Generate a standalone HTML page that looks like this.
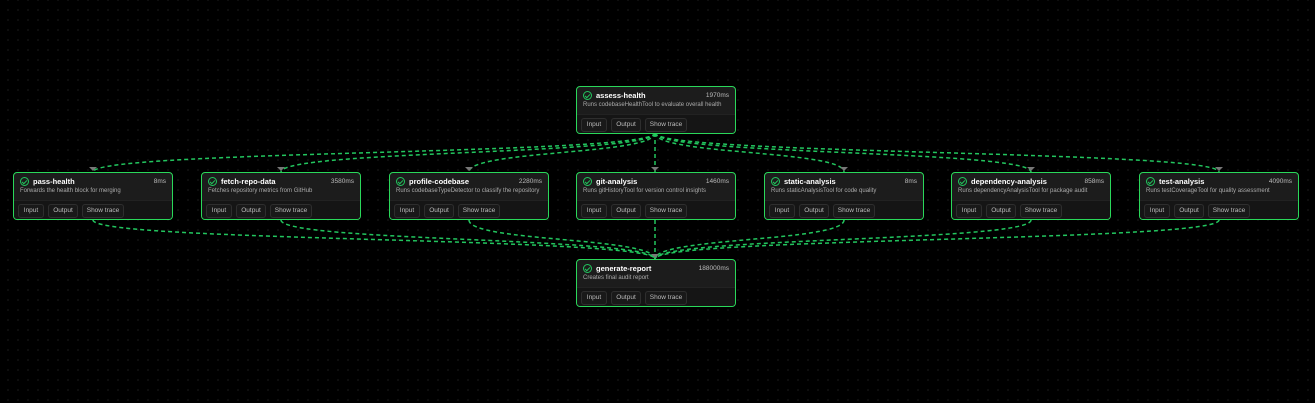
<!DOCTYPE html>
<html><head><meta charset="utf-8"><style>
*{box-sizing:border-box;margin:0;padding:0}
body{width:1315px;height:403px;background:#000;background-image:radial-gradient(#121212 0.8px,transparent 0.9px);background-size:10px 10px;background-position:3px 5px;position:relative;overflow:hidden;font-family:"Liberation Sans",sans-serif}
.n{position:absolute;width:160px;height:48px;border:1.5px solid #2ad85a;border-radius:4px;background:#1c1c1c;overflow:hidden}
.h{position:absolute;left:6px;top:4px;right:6px;height:10px}
.ic{position:absolute;left:0;top:0;width:9px;height:9px;border:1.3px solid #22c55e;border-radius:50%}
.ic:after{content:"";position:absolute;left:2px;top:1px;width:2px;height:4px;border:solid #22c55e;border-width:0 1.2px 1.2px 0;transform:rotate(45deg)}
.t{position:absolute;left:13px;top:0;font-size:7.5px;font-weight:bold;color:#fff;line-height:9px}
.ms{position:absolute;right:0;top:0;font-size:6.5px;color:#bbb;line-height:9px}
.d{position:absolute;left:6px;top:15px;font-size:6px;color:#aaa;white-space:nowrap}
.f{position:absolute;left:0;right:0;top:27px;bottom:0;background:#151515;border-top:1px solid #222}
.b{position:absolute;top:3px;height:14px;border:1px solid #2e2e2e;border-radius:3px;background:#191919;color:#bbb;font-size:6.5px;line-height:12px;text-align:center}
svg{position:absolute;left:0;top:0}
</style></head><body>
<svg width="1315" height="403">
<g fill="none" stroke="#22c55e" stroke-width="1.5" stroke-dasharray="4 3">
<path d="M655,133 C655,155 93,150 93,172"/>
<path d="M655,133 C655,155 281,150 281,172"/>
<path d="M655,133 C655,155 469,150 469,172"/>
<path d="M655,133 L655,172"/>
<path d="M655,133 C655,155 844,150 844,172"/>
<path d="M655,133 C655,155 1031,150 1031,172"/>
<path d="M655,133 C655,155 1219,150 1219,172"/>
<path d="M93,220 C93,242 655,237 655,259"/>
<path d="M281,220 C281,242 655,237 655,259"/>
<path d="M469,220 C469,242 655,237 655,259"/>
<path d="M655,220 L655,259"/>
<path d="M844,220 C844,242 655,237 655,259"/>
<path d="M1031,220 C1031,242 655,237 655,259"/>
<path d="M1219,220 C1219,242 655,237 655,259"/>
</g>
<g fill="#777">
<path d="M89,167 h8 l-4,4z"/><path d="M277,167 h8 l-4,4z"/><path d="M465,167 h8 l-4,4z"/><path d="M651,167 h8 l-4,4z"/><path d="M840,167 h8 l-4,4z"/><path d="M1027,167 h8 l-4,4z"/><path d="M1215,167 h8 l-4,4z"/><path d="M651,254 h8 l-4,4z"/>
</g>
</svg>

<div class="n" style="left:576px;top:86px"><div class="h"><div class="ic"></div><div class="t">assess-health</div><div class="ms">1970ms</div></div><div class="d">Runs codebaseHealthTool to evaluate overall health</div><div class="f"><div class="b" style="left:4px;width:26px">Input</div><div class="b" style="left:34px;width:30px">Output</div><div class="b" style="left:68px;width:42px">Show trace</div></div></div>

<div class="n" style="left:13px;top:172px"><div class="h"><div class="ic"></div><div class="t">pass-health</div><div class="ms">8ms</div></div><div class="d">Forwards the health block for merging</div><div class="f"><div class="b" style="left:4px;width:26px">Input</div><div class="b" style="left:34px;width:30px">Output</div><div class="b" style="left:68px;width:42px">Show trace</div></div></div>

<div class="n" style="left:201px;top:172px"><div class="h"><div class="ic"></div><div class="t">fetch-repo-data</div><div class="ms">3580ms</div></div><div class="d">Fetches repository metrics from GitHub</div><div class="f"><div class="b" style="left:4px;width:26px">Input</div><div class="b" style="left:34px;width:30px">Output</div><div class="b" style="left:68px;width:42px">Show trace</div></div></div>

<div class="n" style="left:389px;top:172px"><div class="h"><div class="ic"></div><div class="t">profile-codebase</div><div class="ms">2280ms</div></div><div class="d">Runs codebaseTypeDetector to classify the repository</div><div class="f"><div class="b" style="left:4px;width:26px">Input</div><div class="b" style="left:34px;width:30px">Output</div><div class="b" style="left:68px;width:42px">Show trace</div></div></div>

<div class="n" style="left:576px;top:172px"><div class="h"><div class="ic"></div><div class="t">git-analysis</div><div class="ms">1460ms</div></div><div class="d">Runs gitHistoryTool for version control insights</div><div class="f"><div class="b" style="left:4px;width:26px">Input</div><div class="b" style="left:34px;width:30px">Output</div><div class="b" style="left:68px;width:42px">Show trace</div></div></div>

<div class="n" style="left:764px;top:172px"><div class="h"><div class="ic"></div><div class="t">static-analysis</div><div class="ms">8ms</div></div><div class="d">Runs staticAnalysisTool for code quality</div><div class="f"><div class="b" style="left:4px;width:26px">Input</div><div class="b" style="left:34px;width:30px">Output</div><div class="b" style="left:68px;width:42px">Show trace</div></div></div>

<div class="n" style="left:951px;top:172px"><div class="h"><div class="ic"></div><div class="t">dependency-analysis</div><div class="ms">858ms</div></div><div class="d">Runs dependencyAnalysisTool for package audit</div><div class="f"><div class="b" style="left:4px;width:26px">Input</div><div class="b" style="left:34px;width:30px">Output</div><div class="b" style="left:68px;width:42px">Show trace</div></div></div>

<div class="n" style="left:1139px;top:172px"><div class="h"><div class="ic"></div><div class="t">test-analysis</div><div class="ms">4090ms</div></div><div class="d">Runs testCoverageTool for quality assessment</div><div class="f"><div class="b" style="left:4px;width:26px">Input</div><div class="b" style="left:34px;width:30px">Output</div><div class="b" style="left:68px;width:42px">Show trace</div></div></div>

<div class="n" style="left:576px;top:259px"><div class="h"><div class="ic"></div><div class="t">generate-report</div><div class="ms">188000ms</div></div><div class="d">Creates final audit report</div><div class="f"><div class="b" style="left:4px;width:26px">Input</div><div class="b" style="left:34px;width:30px">Output</div><div class="b" style="left:68px;width:42px">Show trace</div></div></div>
</body></html>
